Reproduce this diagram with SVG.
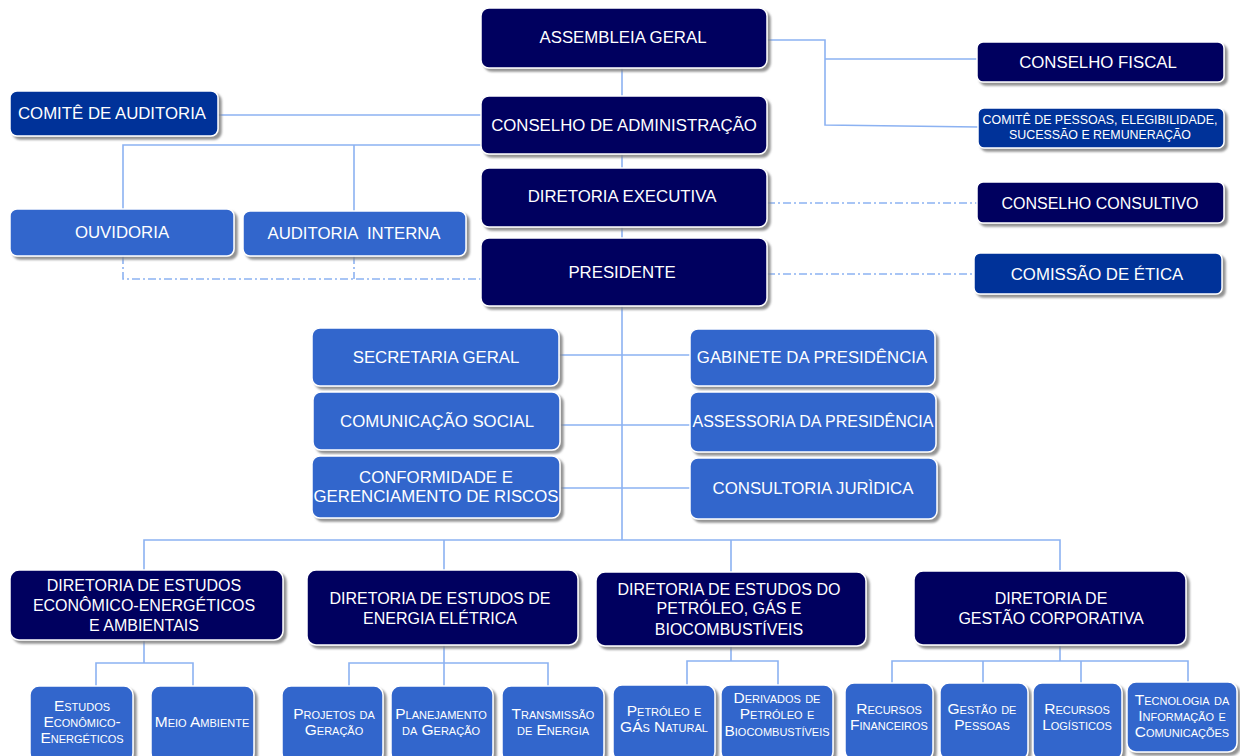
<svg xmlns="http://www.w3.org/2000/svg" width="1240" height="756" viewBox="0 0 1240 756">
<defs>
<filter id="sh" x="-10%" y="-10%" width="125%" height="130%">
<feDropShadow dx="3" dy="3" stdDeviation="1.2" flood-color="#808080" flood-opacity="0.85"/>
</filter>
<style>
.n{stroke:#ffffff;stroke-width:1.5;filter:url(#sh)}
.dk{fill:#03035F}
.md{fill:#003399}
.lt{fill:#3366CC}
text{font-family:"Liberation Sans",Arial,sans-serif;fill:#ffffff;text-anchor:middle}
.t{font-size:16px}
.b{font-size:16.8px}
.s{font-size:15.5px;font-variant:small-caps}
.c{fill:none;stroke:#8CB2F2;stroke-width:1.6}
.d{fill:none;stroke:#8CB2F2;stroke-width:1.6;stroke-dasharray:8 3 2 3}
</style>
</defs>
<rect width="1240" height="756" fill="#ffffff"/>
<g id="connectors">
<path class="c" d="M622 68V540"/>
<path class="c" d="M767 40H825V125L978 127M825 59H977"/>
<path class="c" d="M218 115H481"/>
<path class="c" d="M123 209V145H481M354 145V211"/>
<path class="d" d="M123 256V279H481M354 256V279"/>
<path class="d" d="M767 203H977"/>
<path class="d" d="M767 274H974"/>
<path class="c" d="M559 355H690M560 425H690M560 488H690"/>
<path class="c" d="M144 570V540H1060V570M444 540V570M731 540V572"/>
<path class="c" d="M144 640V663M96 686V663H193V686"/>
<path class="c" d="M444 645V686M349 686V663H548V686"/>
<path class="c" d="M731 646V661M687 685V661H778V685"/>
<path class="c" d="M1060 646V661M892 683V661H1188V682M983 661V683M1081 661V683"/>
</g>
<g id="assembleia"><rect class="n dk" x="481" y="8" width="286" height="60" rx="8"/><text class="b" x="623" y="43">ASSEMBLEIA GERAL</text></g>
<g id="conselho-adm"><rect class="n dk" x="481" y="96" width="286" height="58" rx="8"/><text class="b" x="624" y="131">CONSELHO DE ADMINISTRAÇÃO</text></g>
<g id="diretoria-exec"><rect class="n dk" x="481" y="168" width="286" height="59" rx="8"/><text class="b" x="622" y="202">DIRETORIA EXECUTIVA</text></g>
<g id="presidente"><rect class="n dk" x="481" y="238" width="286" height="68" rx="8"/><text class="b" x="622" y="278">PRESIDENTE</text></g>
<g id="conselho-fiscal"><rect class="n dk" x="977" y="42" width="247" height="40" rx="6"/><text class="b" x="1098" y="68">CONSELHO FISCAL</text></g>
<g id="comite-pessoas"><rect class="n md" x="978" y="108" width="246" height="40" rx="6"/><text x="1100" y="124" style="font-size:12.4px">COMITÊ  DE PESSOAS,  ELEGIBILIDADE,</text><text x="1100" y="139" style="font-size:12.4px">SUCESSÃO  E REMUNERAÇÃO</text></g>
<g id="conselho-consultivo"><rect class="n dk" x="977" y="182" width="247" height="41" rx="6"/><text class="t" x="1100" y="209">CONSELHO CONSULTIVO</text></g>
<g id="comissao-etica"><rect class="n md" x="974" y="253" width="248" height="41" rx="6"/><text class="b" x="1097" y="280">COMISSÃO DE ÉTICA</text></g>
<g id="comite-auditoria"><rect class="n md" x="10" y="91" width="208" height="45" rx="7"/><text class="b" x="112" y="119">COMITÊ DE AUDITORIA</text></g>
<g id="ouvidoria"><rect class="n lt" x="10" y="209" width="224" height="47" rx="7"/><text class="b" x="122" y="238">OUVIDORIA</text></g>
<g id="auditoria-interna"><rect class="n lt" x="243" y="211" width="223" height="45" rx="7"/><text class="b" x="354" y="239" xml:space="preserve">AUDITORIA  INTERNA</text></g>
<g id="secretaria"><rect class="n lt" x="312" y="328" width="247" height="58" rx="8"/><text class="b" x="436" y="363">SECRETARIA GERAL</text></g>
<g id="comunicacao"><rect class="n lt" x="313" y="392" width="247" height="58" rx="8"/><text class="b" x="437" y="427">COMUNICAÇÃO SOCIAL</text></g>
<g id="conformidade"><rect class="n lt" x="312" y="456" width="248" height="62" rx="8"/><text class="b" x="436" y="483">CONFORMIDADE E</text><text class="b" x="436" y="502">GERENCIAMENTO DE RISCOS</text></g>
<g id="gabinete"><rect class="n lt" x="690" y="329" width="245" height="57" rx="8"/><text class="b" x="812" y="363">GABINETE DA PRESIDÊNCIA</text></g>
<g id="assessoria"><rect class="n lt" x="690" y="392" width="246" height="60" rx="8"/><text class="t" x="813" y="427">ASSESSORIA DA PRESIDÊNCIA</text></g>
<g id="consultoria"><rect class="n lt" x="690" y="458" width="247" height="61" rx="8"/><text class="b" x="813" y="494">CONSULTORIA JURÌDICA</text></g>
<g id="dir-economicos"><rect class="n dk" x="10" y="570" width="273" height="70" rx="9"/><text class="t" x="144" y="591">DIRETORIA DE ESTUDOS</text><text class="t" x="144" y="611">ECONÔMICO-ENERGÉTICOS</text><text class="t" x="144" y="631">E AMBIENTAIS</text></g>
<g id="dir-eletrica"><rect class="n dk" x="307" y="570" width="271" height="75" rx="9"/><text class="t" x="440" y="604">DIRETORIA DE ESTUDOS DE</text><text class="t" x="440" y="624">ENERGIA ELÉTRICA</text></g>
<g id="dir-petroleo"><rect class="n dk" x="596" y="572" width="270" height="74" rx="9"/><text class="t" x="729" y="595">DIRETORIA DE ESTUDOS DO</text><text class="t" x="729" y="614">PETRÓLEO, GÁS E</text><text class="t" x="729" y="635">BIOCOMBUSTÍVEIS</text></g>
<g id="dir-gestao"><rect class="n dk" x="914" y="571" width="272" height="74" rx="9"/><text class="t" x="1051" y="604">DIRETORIA DE</text><text class="t" x="1051" y="624">GESTÃO CORPORATIVA</text></g>
<g id="estudos-ee"><rect class="n lt" x="30" y="686" width="103" height="76" rx="9"/><text class="s" x="82" y="711">Estudos</text><text class="s" x="82" y="727">Econômico-</text><text class="s" x="82" y="743">Energéticos</text></g>
<g id="meio-ambiente"><rect class="n lt" x="151" y="686" width="103" height="76" rx="9"/><text class="s" x="202" y="727">Meio Ambiente</text></g>
<g id="projetos-geracao"><rect class="n lt" x="282" y="686" width="101" height="76" rx="9"/><text class="s" x="334" y="719">Projetos da</text><text class="s" x="334" y="735">Geração</text></g>
<g id="planejamento-geracao"><rect class="n lt" x="391" y="686" width="102" height="76" rx="9"/><text class="s" x="441" y="719">Planejamento</text><text class="s" x="441" y="735">da Geração</text></g>
<g id="transmissao"><rect class="n lt" x="502" y="686" width="102" height="76" rx="9"/><text class="s" x="553" y="719">Transmissão</text><text class="s" x="553" y="735">de Energia</text></g>
<g id="petroleo-gas"><rect class="n lt" x="613" y="685" width="102" height="76" rx="9"/><text class="s" x="664" y="716">Petróleo e</text><text class="s" x="664" y="732">GÁs Natural</text></g>
<g id="derivados"><rect class="n lt" x="721" y="685" width="112" height="76" rx="9"/><text class="s" x="777" y="703">Derivados de</text><text class="s" x="777" y="719">Petróleo e</text><text class="s" x="777" y="736">Biocombustíveis</text></g>
<g id="recursos-financeiros"><rect class="n lt" x="845" y="683" width="88" height="77" rx="9"/><text class="s" x="889" y="714">Recursos</text><text class="s" x="889" y="730">Financeiros</text></g>
<g id="gestao-pessoas"><rect class="n lt" x="940" y="683" width="88" height="77" rx="9"/><text class="s" x="982" y="714">Gestão de</text><text class="s" x="982" y="730">Pessoas</text></g>
<g id="recursos-logisticos"><rect class="n lt" x="1033" y="683" width="89" height="77" rx="9"/><text class="s" x="1077" y="714">Recursos</text><text class="s" x="1077" y="730">Logísticos</text></g>
<g id="tecnologia"><rect class="n lt" x="1127" y="682" width="110" height="70" rx="9"/><text class="s" x="1182" y="705">Tecnologia da</text><text class="s" x="1182" y="721">Informação e</text><text class="s" x="1182" y="737">Comunicações</text></g>
</svg>
